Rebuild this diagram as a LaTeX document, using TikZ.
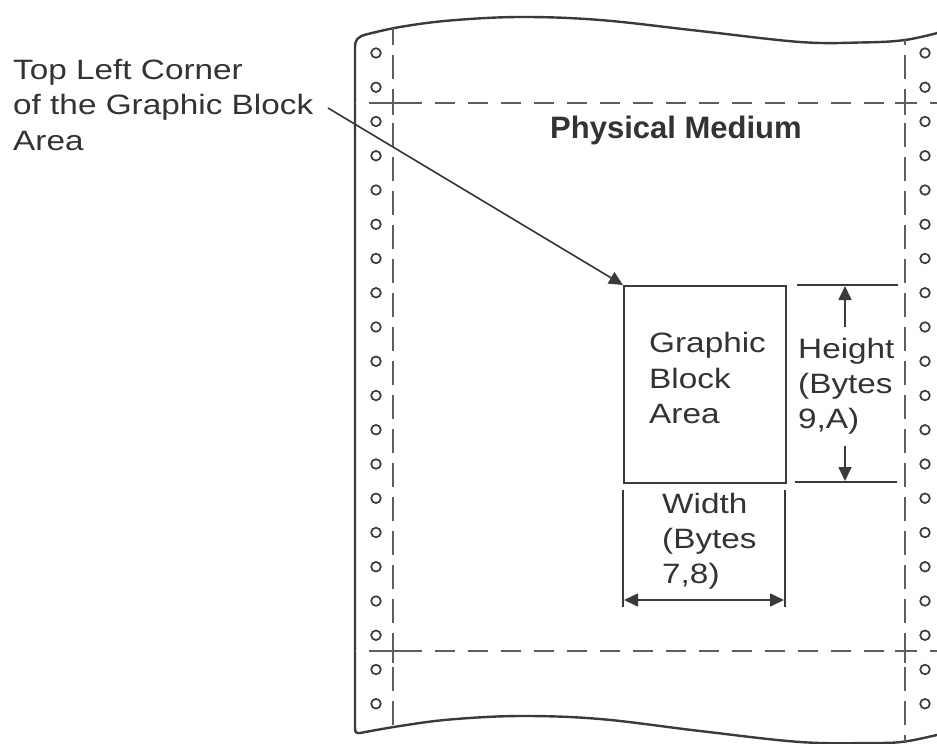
\documentclass[tikz,border=0pt]{standalone}
\usepackage{fontspec}
\setmainfont{Liberation Sans}
\newfontfamily\lab[FakeStretch=1.19]{Liberation Sans}
\usetikzlibrary{arrows.meta}
\definecolor{ink}{HTML}{333333}
\definecolor{edge}{HTML}{3a3a3a}
\definecolor{dashc}{HTML}{5e5e5e}
\begin{document}
\begin{tikzpicture}[x=1pt,y=-1pt,
  txt/.style={font=\lab\fontsize{28}{34}\selectfont, text=ink, inner sep=0pt, anchor=base west},
  ttl/.style={font=\fontsize{31}{34}\selectfont\bfseries, text=ink, inner sep=0pt, anchor=base west},
  paper/.style={draw=edge, line width=2.4pt, line cap=round, line join=round},
  vdash/.style={draw=dashc, line width=2pt, dash pattern=on 24pt off 10pt},
  hdash/.style={draw=dashc, line width=2pt, dash pattern=on 20pt off 13pt},
  cross/.style={draw=dashc, line width=2pt},
  hole/.style={draw=edge, line width=1.7pt},
  thin/.style={draw=edge, line width=1.8pt},
  arr/.style={draw=edge, line width=1.7pt, -{Triangle[length=14pt,width=13pt]}},
  darr/.style={draw=edge, line width=1.7pt, {Triangle[length=14pt,width=13pt]}-{Triangle[length=14pt,width=13pt]}}
]
\useasboundingbox (0,0) rectangle (937,744);
\begin{scope}
\clip (0,0) rectangle (937,744);
% paper outline
\draw[paper] plot[smooth, tension=0.6] coordinates {(366,34.5) (400,27) (450,20.5) (520,17) (600,20) (700,31) (800,42) (860,42.5) (905,40) (945,31)};
\draw[paper] (366,34.5) .. controls (357,37) and (355,40) .. (355,48) -- (355,728) .. controls (355,732) and (356,733.5) .. (360,733);
\draw[paper] plot[smooth, tension=0.6] coordinates {(360,733) (400,726) (450,719.5) (520,716) (600,719) (700,731) (800,742) (870,743) (905,741.5) (945,733)};
% dashed guide lines
\draw[vdash, dash phase=7pt] (393,28) -- (393,726);
\draw[vdash, dash phase=19pt] (905,40) -- (905,741.5);
\draw[hdash, dash phase=19pt] (355,103) -- (945,103);
\draw[hdash, dash phase=19pt] (355,651) -- (945,651);
\foreach \cx/\cy in {393/103, 905/103, 393/651, 905/651}{
  \draw[cross] (\cx-10,\cy) -- (\cx+10,\cy) (\cx,\cy-12) -- (\cx,\cy+12);
}
% sprocket holes
\foreach \i in {0,...,19}{
  \draw[hole] (376,53+34.25*\i) circle (4.8pt);
  \draw[hole] (925,53+34.25*\i) circle (4.8pt);
}
\end{scope}

% texts
\node[txt] (tl1) at (13,79) {Top Left Corner};
\node[txt] (tl2) at (13,114) {of the Graphic Block};
\node[txt] (tl3) at (13,150) {Area};
\node[ttl] (pm) at (550,138) {Physical Medium};

% graphic block area
\node[draw=edge, line width=1.8pt, minimum width=162pt, minimum height=197pt, inner sep=0pt, anchor=north west] (box) at (623,285) {};
\node[txt] (g1) at (649,352) {Graphic};
\node[txt] (g2) at (649,388) {Block};
\node[txt] (g3) at (649,423) {Area};

% leader
\coordinate (lead) at (328,108);
\draw[arr] (lead) -- (box.north west);

% height dimension
\coordinate (ht1) at (797,285);
\coordinate (ht2) at (898,285);
\coordinate (hb1) at (795,482);
\coordinate (hb2) at (897,482);
\draw[thin] (ht1) -- (ht2);
\draw[thin] (hb1) -- (hb2);
\coordinate (hus) at (845,327);
\coordinate (hut) at (845,286);
\coordinate (hds) at (845,446);
\coordinate (hdt) at (845,481);
\draw[arr] (hus) -- (hut);
\draw[arr] (hds) -- (hdt);
\node[txt] (h1) at (798,358) {Height};
\node[txt] (h2) at (798,393) {(Bytes};
\node[txt] (h3) at (798,428) {9,A)};

% width dimension
\coordinate (wl1) at (623,490);
\coordinate (wl2) at (623,607);
\coordinate (wr1) at (785,490);
\coordinate (wr2) at (785,607);
\draw[thin] (wl1) -- (wl2);
\draw[thin] (wr1) -- (wr2);
\coordinate (wa) at (624,600);
\coordinate (wb) at (784,600);
\draw[darr] (wa) -- (wb);
\node[txt] (w1) at (662,513) {Width};
\node[txt] (w2) at (662,548) {(Bytes};
\node[txt] (w3) at (662,583) {7,8)};
\end{tikzpicture}
\end{document}
